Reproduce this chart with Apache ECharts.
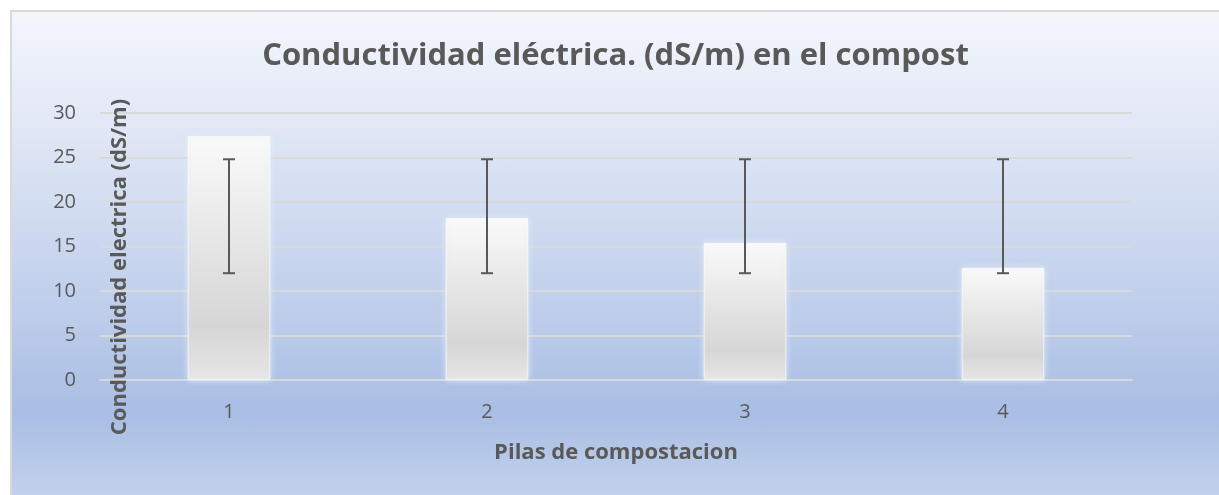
<!DOCTYPE html>
<html>
<head>
<meta charset="utf-8">
<script src="https://cdn.jsdelivr.net/npm/echarts@6/dist/echarts.min.js"></script>
<style>
  html, body { margin: 0; padding: 0; background: #fff; }
  #frame {
    position: absolute; left: 10px; top: 10px;
    width: 1209px; height: 485px;
    box-sizing: border-box;
    border-left: 2px solid #d9d9d9; border-top: 2px solid #d9d9d9;
    background: linear-gradient(to bottom, #f4f6fc 0%, #d3ddf1 40%, #a9bee4 83%, #c2d1ec 100%);
  }
  #chart { width: 100%; height: 100%; }
</style>
</head>
<body>
<div id="frame"><div id="chart"></div></div>
<script>
// data
const categories = ['1', '2', '3', '4']
const ecValues = [27.4, 18.2, 15.4, 12.6]
const errLow = [12, 12, 12, 12]
const errHigh = [24.8, 24.8, 24.8, 24.8]
const yTicks = { min: 0, max: 30, interval: 5 }

const textColor = '#595959'
const font = '"Open Sans", sans-serif'

const chart = echarts.init(document.getElementById('chart'))

const errData = categories.map((c, i) => [i, errLow[i], errHigh[i]])

chart.setOption({
  backgroundColor: 'transparent',
  animation: false,
  title: {
    text: 'Conductividad eléctrica. (dS/m) en el compost',
    left: 'center',
    top: 24,
    textStyle: { color: textColor, fontSize: 31, fontWeight: 'bold', fontFamily: font }
  },
  grid: { left: 88, right: 87, top: 101, bottom: 115 },
  xAxis: {
    type: 'category',
    data: categories,
    name: 'Pilas de compostacion',
    nameLocation: 'middle',
    nameGap: 62,
    nameTextStyle: { color: textColor, fontSize: 22, fontWeight: 'bold', fontFamily: font },
    axisLine: { lineStyle: { color: '#d9d9d9', width: 2 } },
    axisTick: { show: false },
    axisLabel: { color: textColor, fontSize: 20, margin: 22, fontFamily: font }
  },
  yAxis: {
    type: 'value',
    min: yTicks.min,
    max: yTicks.max,
    interval: yTicks.interval,
    axisLine: { show: false },
    axisTick: { show: false },
    axisLabel: { color: textColor, fontSize: 20, margin: 24, fontFamily: font },
    splitLine: { lineStyle: { color: '#d9d9d9', width: 2 } }
  },
  graphic: [{
    type: 'text',
    rotation: Math.PI / 2,
    x: 108, y: 255,
    style: {
      text: 'Conductividad electrica (dS/m)',
      fill: textColor,
      font: 'bold 22px "Open Sans", sans-serif',
      textAlign: 'center',
      textVerticalAlign: 'middle'
    },
    z: 100
  }],
  series: [
    {
      type: 'bar',
      data: ecValues,
      barWidth: '32%',
      itemStyle: {
        color: new echarts.graphic.LinearGradient(0, 0, 0, 1, [
          { offset: 0, color: '#fafafa' },
          { offset: 0.78, color: '#d6d6d6' },
          { offset: 1, color: '#e6e6e6' }
        ]),
        borderColor: 'rgba(255,255,255,0.6)',
        borderWidth: 1,
        shadowBlur: 6,
        shadowColor: 'rgba(230,236,250,0.9)'
      }
    },
    {
      type: 'custom',
      data: errData,
      z: 10,
      renderItem: function (params, api) {
        const lo = api.coord([api.value(0), api.value(1)])
        const hi = api.coord([api.value(0), api.value(2)])
        const w = 6
        const style = { stroke: '#595959', lineWidth: 2 }
        return {
          type: 'group',
          children: [
            { type: 'line', shape: { x1: lo[0], y1: lo[1], x2: hi[0], y2: hi[1] }, style: style },
            { type: 'line', shape: { x1: lo[0] - w, y1: lo[1], x2: lo[0] + w, y2: lo[1] }, style: style },
            { type: 'line', shape: { x1: hi[0] - w, y1: hi[1], x2: hi[0] + w, y2: hi[1] }, style: style }
          ]
        }
      }
    }
  ]
})
</script>
</body>
</html>
